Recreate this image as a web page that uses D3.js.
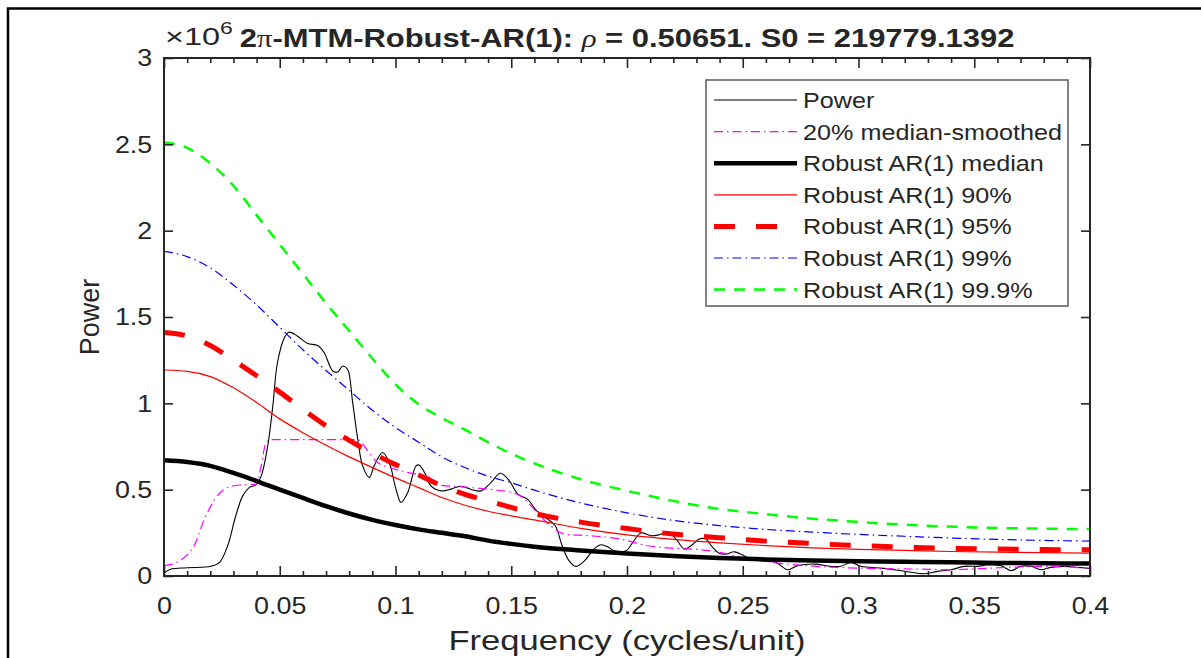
<!DOCTYPE html>
<html>
<head>
<meta charset="utf-8">
<script src="https://cdn.jsdelivr.net/npm/d3@7"></script>
<style>
body { margin: 0; background: #fff; }
text { font-family: "Liberation Sans", Arial, sans-serif; fill: #262626; }
</style>
</head>
<body>
<div class="diagram"></div>
<script>
// values in units of 1e6
var arFreq = [0, 0.01, 0.02, 0.03, 0.04, 0.05, 0.06, 0.07, 0.08, 0.09, 0.10, 0.11, 0.12, 0.13, 0.14, 0.15, 0.16, 0.18, 0.20, 0.22, 0.24, 0.26, 0.28, 0.30, 0.32, 0.34, 0.36, 0.38, 0.40];
var arMedian = [0.67, 0.66, 0.638, 0.597, 0.55, 0.50, 0.452, 0.405, 0.362, 0.325, 0.295, 0.27, 0.25, 0.23, 0.205, 0.186, 0.17, 0.148, 0.13, 0.116, 0.104, 0.096, 0.09, 0.086, 0.082, 0.079, 0.076, 0.074, 0.072];
var ar90 = [1.193, 1.185, 1.155, 1.09, 1.005, 0.91, 0.83, 0.757, 0.69, 0.628, 0.568, 0.512, 0.455, 0.41, 0.375, 0.348, 0.325, 0.276, 0.238, 0.212, 0.192, 0.176, 0.163, 0.154, 0.148, 0.142, 0.138, 0.135, 0.133];
var ar95 = [1.41, 1.39, 1.335, 1.25, 1.16, 1.065, 0.965, 0.87, 0.785, 0.712, 0.645, 0.585, 0.522, 0.473, 0.435, 0.397, 0.362, 0.312, 0.275, 0.243, 0.222, 0.202, 0.188, 0.176, 0.167, 0.16, 0.156, 0.153, 0.152];
var ar99 = [1.88, 1.85, 1.785, 1.685, 1.57, 1.44, 1.31, 1.19, 1.075, 0.96, 0.86, 0.775, 0.69, 0.628, 0.578, 0.54, 0.497, 0.423, 0.366, 0.322, 0.292, 0.27, 0.254, 0.241, 0.23, 0.22, 0.212, 0.206, 0.202];
var ar999 = [2.51, 2.48, 2.39, 2.26, 2.09, 1.92, 1.75, 1.58, 1.42, 1.26, 1.11, 0.995, 0.915, 0.848, 0.775, 0.708, 0.652, 0.56, 0.493, 0.435, 0.388, 0.358, 0.332, 0.313, 0.297, 0.286, 0.278, 0.274, 0.272];

var smoothFreq = [0, 0.005, 0.009, 0.013, 0.0175, 0.022, 0.027, 0.033, 0.04, 0.042, 0.044, 0.046, 0.0836, 0.088, 0.092, 0.097, 0.105, 0.114, 0.12, 0.13, 0.145, 0.15, 0.154, 0.161, 0.167, 0.173, 0.184, 0.197, 0.209, 0.22, 0.232, 0.2435, 0.25, 0.265, 0.282, 0.304, 0.3256, 0.34, 0.354, 0.369, 0.383, 0.4];
var smoothVals = [0.06, 0.075, 0.11, 0.175, 0.33, 0.445, 0.51, 0.527, 0.532, 0.64, 0.77, 0.79, 0.79, 0.725, 0.66, 0.63, 0.6, 0.575, 0.525, 0.515, 0.495, 0.485, 0.464, 0.37, 0.29, 0.243, 0.233, 0.214, 0.175, 0.16, 0.152, 0.127, 0.105, 0.075, 0.056, 0.044, 0.04, 0.036, 0.044, 0.052, 0.056, 0.044];

var powerFreq = [0, 0.003, 0.01, 0.0203, 0.024, 0.0275, 0.031, 0.034, 0.0369, 0.0397, 0.042, 0.0448, 0.047, 0.049, 0.052, 0.054, 0.0577, 0.062, 0.0664, 0.0692, 0.0729, 0.075, 0.0772, 0.0793, 0.0815, 0.0837, 0.0858, 0.0887, 0.0908, 0.0944, 0.0973, 0.1002, 0.1024, 0.1053, 0.1089, 0.1103, 0.1125, 0.1153, 0.1197, 0.124, 0.128, 0.133, 0.137, 0.1413, 0.1453, 0.1492, 0.1528, 0.157, 0.161, 0.1657, 0.169, 0.172, 0.175, 0.178, 0.1816, 0.186, 0.1888, 0.1917, 0.1945, 0.1996, 0.2025, 0.206, 0.2104, 0.214, 0.2175, 0.2212, 0.2248, 0.2276, 0.2312, 0.234, 0.237, 0.24, 0.2428, 0.2464, 0.25, 0.2536, 0.259, 0.2644, 0.2694, 0.2737, 0.281, 0.288, 0.2924, 0.2968, 0.301, 0.311, 0.321, 0.3284, 0.334, 0.34, 0.3457, 0.3514, 0.3557, 0.3616, 0.366, 0.37, 0.3745, 0.3788, 0.383, 0.389, 0.3946, 0.4];
var powerVals = [0.017, 0.04, 0.048, 0.056, 0.079, 0.175, 0.349, 0.464, 0.513, 0.528, 0.58, 0.753, 0.984, 1.235, 1.38, 1.412, 1.389, 1.347, 1.335, 1.293, 1.187, 1.181, 1.216, 1.197, 1.004, 0.792, 0.638, 0.571, 0.638, 0.715, 0.657, 0.503, 0.426, 0.484, 0.638, 0.642, 0.6, 0.522, 0.493, 0.503, 0.52, 0.5, 0.493, 0.542, 0.595, 0.551, 0.474, 0.445, 0.377, 0.329, 0.291, 0.175, 0.088, 0.056, 0.088, 0.16, 0.181, 0.169, 0.146, 0.146, 0.195, 0.249, 0.233, 0.239, 0.253, 0.214, 0.156, 0.175, 0.214, 0.214, 0.166, 0.131, 0.127, 0.14, 0.121, 0.098, 0.088, 0.079, 0.036, 0.06, 0.069, 0.056, 0.056, 0.079, 0.056, 0.044, 0.025, 0.013, 0.027, 0.036, 0.056, 0.056, 0.064, 0.06, 0.031, 0.056, 0.056, 0.036, 0.05, 0.056, 0.05, 0.044];

var xTicks = [0, 0.05, 0.1, 0.15, 0.2, 0.25, 0.3, 0.35, 0.4];
var xTickLabels = ['0', '0.05', '0.1', '0.15', '0.2', '0.25', '0.3', '0.35', '0.4'];
var yTicks = [0, 0.5, 1, 1.5, 2, 2.5, 3];
var yTickLabels = ['0', '0.5', '1', '1.5', '2', '2.5', '3'];
var legendLabels = ['Power', '20% median-smoothed', 'Robust AR(1) median', 'Robust AR(1) 90%', 'Robust AR(1) 95%', 'Robust AR(1) 99%', 'Robust AR(1) 99.9%'];

var width = 1201, height = 658;
var margin = {top: 58, right: 111, bottom: 82, left: 164};
var w = width - margin.left - margin.right,
    h = height - margin.top - margin.bottom;
var sx = 1.12; // the picture is stretched sideways

var root = d3.select('.diagram').append('svg')
  .attr('width', width)
  .attr('height', height);

// outer frame, only top and left edges are visible
root.append('rect')
  .attr('x', 8).attr('y', 8.5)
  .attr('width', 1400).attr('height', 900)
  .attr('fill', 'none').attr('stroke', '#000').attr('stroke-width', 2.5);

var svg = root.append('g')
  .attr('transform', 'translate(' + margin.left + ',' + margin.top + ')');

var x = d3.scaleLinear().domain([0, 0.4]).range([0, w]),
    y = d3.scaleLinear().domain([0, 3]).range([h, 0]);

svg.append('defs').append('clipPath').attr('id', 'clip')
  .append('rect').attr('width', w).attr('height', h);

var series = [
  {id: legendLabels[0], f: powerFreq, v: powerVals, color: '#000', width: 1.1, dash: null, curve: d3.curveCatmullRom},
  {id: legendLabels[1], f: smoothFreq, v: smoothVals, color: '#ff00ff', width: 1.2, dash: '9,4,1.5,4', curve: d3.curveMonotoneX},
  {id: legendLabels[2], f: arFreq, v: arMedian, color: '#000', width: 4.5, dash: null, curve: d3.curveMonotoneX},
  {id: legendLabels[3], f: arFreq, v: ar90, color: '#ff0000', width: 1.2, dash: null, curve: d3.curveMonotoneX},
  {id: legendLabels[4], f: arFreq, v: ar95, color: '#ff0000', width: 5, dash: '21,21', curve: d3.curveMonotoneX},
  {id: legendLabels[5], f: arFreq, v: ar99, color: '#0000ff', width: 1.2, dash: '9,4,1.5,4', curve: d3.curveMonotoneX},
  {id: legendLabels[6], f: arFreq, v: ar999, color: '#00ff00', width: 2.5, dash: '11,9', curve: d3.curveMonotoneX}
];

var lines = svg.append('g').attr('clip-path', 'url(#clip)');

series.forEach(function(s) {
  var pts = s.f.map(function(f, i) { return [f, s.v[i]]; });
  var line = d3.line()
    .curve(s.curve)
    .x(function(d) { return x(d[0]); })
    .y(function(d) { return y(d[1]); });
  lines.append('path')
    .attr('d', line(pts))
    .attr('fill', 'none')
    .attr('stroke', s.color)
    .attr('stroke-width', s.width)
    .attr('stroke-dasharray', s.dash);
});

// axes, ticks pointing in
var minorX = d3.range(0, 41).map(function(i) { return i / 100; })
  .filter(function(d, i) { return i % 5 !== 0; });

function styleAxis(g) {
  g.select('.domain').remove();
  g.selectAll('line').attr('stroke', '#262626').attr('stroke-width', 1.6);
  g.selectAll('text').attr('font-size', 24).attr('fill', '#262626')
    .attr('font-family', '"Liberation Sans", Arial, sans-serif');
}

svg.append('g')
  .attr('transform', 'translate(0,' + h + ')')
  .call(d3.axisBottom(x).tickValues(xTicks).tickFormat(function(d, i) { return xTickLabels[i]; })
    .tickSizeInner(-10).tickSizeOuter(0).tickPadding(21))
  .call(styleAxis)
  .selectAll('text').attr('transform', 'scale(' + sx + ',1)');

svg.append('g')
  .attr('transform', 'translate(0,' + h + ')')
  .call(d3.axisBottom(x).tickValues(minorX).tickFormat('').tickSizeInner(-5).tickSizeOuter(0))
  .call(styleAxis);

svg.append('g')
  .call(d3.axisTop(x).tickValues(xTicks).tickFormat('').tickSizeInner(-10).tickSizeOuter(0))
  .call(styleAxis);

svg.append('g')
  .call(d3.axisTop(x).tickValues(minorX).tickFormat('').tickSizeInner(-5).tickSizeOuter(0))
  .call(styleAxis);

svg.append('g')
  .call(d3.axisLeft(y).tickValues(yTicks).tickFormat(function(d, i) { return yTickLabels[i]; })
    .tickSizeInner(-9).tickSizeOuter(0).tickPadding(10.5))
  .call(styleAxis)
  .selectAll('text').attr('transform', 'scale(' + sx + ',1)');

svg.append('g')
  .attr('transform', 'translate(' + w + ',0)')
  .call(d3.axisRight(y).tickValues(yTicks).tickFormat('').tickSizeInner(-9).tickSizeOuter(0))
  .call(styleAxis);

svg.append('rect')
  .attr('width', w).attr('height', h)
  .attr('fill', 'none').attr('stroke', '#262626').attr('stroke-width', 2);

// axis labels
svg.append('text')
  .attr('transform', 'translate(' + (w / 2) + ',' + (h + 74) + ') scale(1.28,1)')
  .attr('text-anchor', 'middle')
  .attr('font-size', 27)
  .text('Frequency (cycles/unit)');

svg.append('text')
  .attr('transform', 'translate(-65,' + (h / 2) + ') rotate(-90)')
  .attr('text-anchor', 'middle')
  .attr('font-size', 27)
  .text('Power');

// exponent and title
var expo = svg.append('text')
  .attr('transform', 'translate(1,-13) scale(1.35,1)')
  .attr('font-size', 24);
expo.append('tspan').text('\u00d710');
expo.append('tspan').attr('font-size', 17).attr('dy', -11).text('6');

var title = svg.append('text')
  .attr('transform', 'translate(' + (w / 2) + ',-11) scale(1.19,1)')
  .attr('text-anchor', 'middle')
  .attr('font-size', 26)
  .attr('font-weight', 'bold')
  .attr('fill', '#000');
title.append('tspan').text('2');
title.append('tspan').attr('font-family', '"Liberation Serif", serif').attr('font-weight', 'normal').text('\u03c0');
title.append('tspan').text('-MTM-Robust-AR(1): ');
title.append('tspan').attr('font-family', '"Liberation Serif", serif').attr('font-style', 'italic').attr('font-weight', 'normal').text('\u03c1');
title.append('tspan').text(' = 0.50651. S0 = 219779.1392');

// legend
var legend = root.append('g').attr('transform', 'translate(706,80)');
legend.append('rect')
  .attr('width', 362).attr('height', 226)
  .attr('fill', '#fff').attr('stroke', '#5a5a5a').attr('stroke-width', 1.5);

var item = legend.selectAll('.item')
  .data(series)
  .enter()
  .append('g')
  .attr('class', 'item')
  .attr('transform', function(d, i) { return 'translate(0,' + (20 + i * 31.6) + ')'; });

item.append('line')
  .attr('x1', 8).attr('x2', 91)
  .attr('stroke', function(d) { return d.color; })
  .attr('stroke-width', function(d) { return d.width; })
  .attr('stroke-dasharray', function(d) { return d.dash; });

item.append('text')
  .attr('transform', 'translate(97,8) scale(' + sx + ',1)')
  .attr('font-size', 22.5)
  .attr('fill', '#000')
  .text(function(d) { return d.id; });
</script>
</body>
</html>
